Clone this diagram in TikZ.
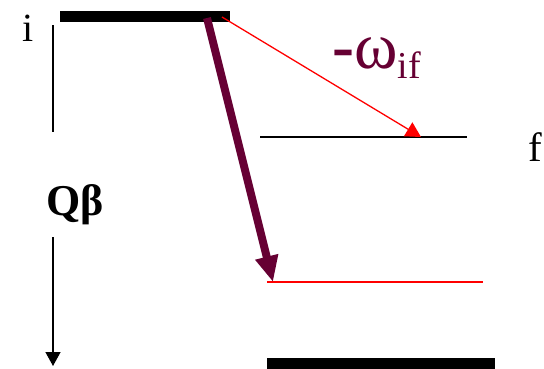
\documentclass[tikz,border=0pt]{standalone}
\usepackage{fontspec}
\setmainfont{Liberation Serif}
\usetikzlibrary{arrows.meta}
\definecolor{maroon}{RGB}{102,0,51}
\begin{document}
\begin{tikzpicture}[x=1pt,y=-1pt,
  thicklevel/.style={line width=11pt},
  thinlevel/.style={line width=1.3pt},
  lbl/.style={inner sep=0pt}]
\useasboundingbox (0,0) rectangle (544,368);
% levels
\coordinate (iL) at (60,16.5);
\coordinate (iR) at (230,16.5);
\coordinate (fL) at (260,137);
\coordinate (fR) at (467,137);
\coordinate (rL) at (267,282);
\coordinate (rR) at (483,282);
\coordinate (gL) at (267,363.5);
\coordinate (gR) at (495,363.5);
\draw[thicklevel] (iL) -- (iR);
\draw[thinlevel,black] (fL) -- (fR);
\draw[thinlevel,red] (rL) -- (rR);
\draw[thicklevel] (gL) -- (gR);
% labels
\node[lbl,font=\fontsize{40}{40}\selectfont] (ilab) at (28,28) {i};
\node[lbl,font=\fontsize{41}{41}\selectfont] (flab) at (535,147) {f};
\node[lbl,font=\bfseries\fontsize{44}{44}\selectfont] (qb) at (75,205) {Qβ};
\node[lbl,text=maroon,font=\fontsize{66}{66}\selectfont,anchor=base west] (om) at (332,68) {\textbf{-}ω\raisebox{-10pt}{\fontsize{38}{38}\selectfont if}};
% Q beta axis
\coordinate (axTop) at (53,25);
\coordinate (axMid1) at (53,132);
\coordinate (axMid2) at (53,237);
\coordinate (axBot) at (53,366);
\draw[line width=1.3pt] (axTop) -- (axMid1);
\draw[line width=1.3pt,-{Triangle[length=14pt,width=15pt]}] (axMid2) -- (axBot);
% transitions
\coordinate (redS) at (222,17);
\coordinate (redE) at (421,137);
\draw[red,line width=1.3pt,-{Triangle[length=15pt,width=16pt]}] (redS) -- (redE);
\coordinate (mS) at (207,18);
\coordinate (mE) at (273,282);
\draw[maroon,line width=8pt,-{Triangle[length=26pt,width=22pt]}] (mS) -- (mE);
\end{tikzpicture}
\end{document}
